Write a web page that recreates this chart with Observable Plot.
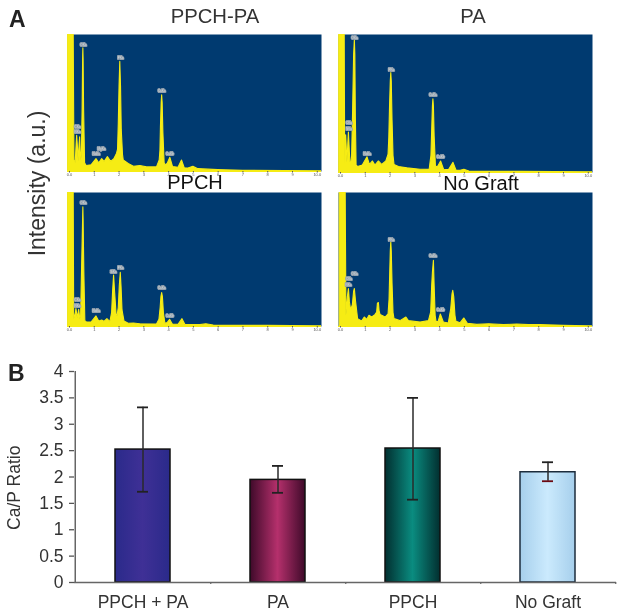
<!DOCTYPE html>
<html>
<head>
<meta charset="utf-8">
<script src="https://cdn.jsdelivr.net/npm/d3@7"></script>
<script src="https://cdn.jsdelivr.net/npm/@observablehq/plot@0.6"></script>
<style>
html,body{margin:0;padding:0;background:#fff;width:626px;height:616px;overflow:hidden}
#page{position:relative;width:626px;height:616px;font-family:"Liberation Sans",Arial,sans-serif;filter:blur(0.4px)}
#page>.plot{position:absolute}
#page>.plot svg{display:block;background:transparent}
#page>.lab{position:absolute;line-height:1;white-space:nowrap}
</style>
</head>
<body>
<div id="page"></div>
<script>
// EDS spectra: [energy keV, intensity % of panel height]
const spectrumPpchPa = [[-0.07,100],[0.17,100],[0.2,8],[0.25,6],[0.29,20],[0.31,26],[0.34,18],[0.37,7],[0.41,20],[0.43,25],[0.45,15],[0.48,8],[0.5,12],[0.53,45],[0.55,82],[0.56,90],[0.57,82],[0.59,45],[0.63,6],[0.69,4],[0.89,4.5],[1.09,9],[1.2,6],[1.32,9],[1.42,7],[1.55,10.5],[1.68,7],[1.81,9],[1.92,13],[1.96,16],[1.99,35],[2.02,62],[2.05,80],[2.08,62],[2.11,30],[2.16,12],[2.19,8],[2.39,5.5],[2.6,3.5],[2.86,4],[3.13,3],[3.53,3],[3.64,8],[3.67,15],[3.69,32],[3.72,50],[3.74,55.6],[3.76,50],[3.79,28],[3.84,6],[3.87,4.5],[3.96,5.5],[4.07,10],[4.18,3.2],[4.4,2.7],[4.54,8],[4.65,2.4],[4.8,2.2],[5,3.4],[5.2,1.7],[6,1],[7,0.5],[10,0.2],[10.17,0.2]];
const spectrumPa = [[-0.05,100],[0.17,100],[0.19,6],[0.21,20],[0.23,27],[0.26,15],[0.28,7],[0.32,22],[0.34,29],[0.37,18],[0.4,7],[0.44,7],[0.47,12],[0.51,45],[0.55,85],[0.58,96],[0.6,85],[0.62,40],[0.65,5],[0.71,4],[0.9,5],[1.09,11],[1.19,5.5],[1.31,8],[1.41,5],[1.55,8],[1.68,5.5],[1.85,8],[1.94,13],[1.97,25],[2,48],[2.03,66],[2.05,72],[2.07,66],[2.1,38],[2.14,12],[2.18,5.5],[2.36,4],[2.7,3],[3.23,2],[3.6,2.2],[3.67,12],[3.7,30],[3.73,48],[3.75,53],[3.77,48],[3.8,26],[3.85,5],[3.88,3.6],[3.95,4.4],[4.06,8],[4.18,2],[4.38,1.7],[4.56,7],[4.68,1.5],[4.85,1.2],[5,2],[5.2,0.7],[7.3,0.5],[10,0.2],[10.17,0.2]];
const spectrumPpch = [[-0.07,100],[0.17,100],[0.19,5],[0.26,10],[0.28,13],[0.31,9],[0.33,6],[0.37,10],[0.39,12.5],[0.42,8],[0.44,5],[0.47,8],[0.51,45],[0.55,80],[0.56,89],[0.57,80],[0.6,40],[0.64,4],[0.7,3],[0.89,3],[1.09,7.5],[1.2,3.7],[1.32,4.5],[1.41,3.5],[1.53,5.5],[1.65,3.2],[1.72,10],[1.76,26],[1.8,38],[1.84,26],[1.9,9],[1.94,7.5],[1.99,14],[2.03,30],[2.07,40],[2.1,30],[2.14,12],[2.22,3.7],[2.39,2],[2.6,2.2],[2.86,1.7],[3.53,1.5],[3.63,5],[3.68,14],[3.71,22],[3.74,25],[3.77,22],[3.81,10],[3.87,2],[3.96,2.5],[4.06,5],[4.17,1.5],[4.4,1.2],[4.56,5.5],[4.68,1.2],[5.28,1],[5.52,1.7],[5.82,0.7],[8,0.5],[10,0.2],[10.17,0.2]];
const spectrumNoGraft = [[-0.03,100],[0.21,100],[0.24,8],[0.3,22],[0.34,28],[0.38,18],[0.43,12],[0.5,16],[0.55,26],[0.58,28],[0.62,20],[0.71,5.5],[0.87,3.7],[0.98,6.7],[1.08,5],[1.17,8],[1.28,6.7],[1.41,8.5],[1.48,10.5],[1.51,17],[1.55,17.5],[1.58,11],[1.62,8.5],[1.82,6.7],[1.94,9],[1.98,20],[2.01,42],[2.03,56],[2.05,63],[2.07,56],[2.1,32],[2.14,10],[2.18,5.5],[2.42,4],[2.66,6.7],[2.76,4],[3.23,3],[3.57,4],[3.66,10.5],[3.7,30],[3.73,40],[3.77,49],[3.8,30],[3.84,8],[3.88,3],[3.96,3.5],[4.05,9],[4.17,3],[4.37,2.2],[4.47,13],[4.52,24],[4.55,26.6],[4.59,22],[4.64,8],[4.68,3.5],[4.85,2.5],[5,6],[5.14,2],[5.52,1.2],[6,1.7],[6.6,1],[7.13,1.5],[7.6,1],[8.08,1],[9,0.5],[10,0.2],[10.15,0.2]];

// Peak labels: [label, energy keV, label height %]
const peaksPpchPa = [["CKa",0.32,32.4],["NKa",0.32,28.5],["OKa",0.56,92],["NaKa",1.08,12.4],["MgKa",1.29,16.3],["PKa",2.06,83],["CaKa",3.72,59],["CaKb",4.05,12.9]];
const peaksPa = [["CKa",0.34,35.6],["NKa",0.34,31.7],["OKa",0.57,97.8],["NaKa",1.08,13.4],["PKa",2.05,74.6],["CaKa",3.73,56],["CaKb",4.04,11.2]];
const peaksPpch = [["CKa",0.32,19.5],["NKa",0.32,15.5],["OKa",0.56,92],["NaKa",1.08,11.5],["SiKa",1.77,41],["PKa",2.06,44],["CaKa",3.72,28.5],["CaKb",4.05,8]];
const peaksNoGraft = [["CKa",0.34,35.3],["NKa",0.32,31.3],["OKa",0.57,38.8],["PKa",2.05,64.7],["CaKa",3.73,52.5],["CaKb",4.04,12.4]];

const energyTicks = [0,1,2,3,4,5,6,7,8,9,10];

// Ca/P ratio bars
const groups = ["PPCH + PA","PA","PPCH","No Graft"];
const ratio = [2.52,1.945,2.54,2.09];
const errLow = [1.72,1.70,1.57,1.92];
const errHigh = [3.32,2.21,3.50,2.28];
const ratioTicks = [0,0.5,1,1.5,2,2.5,3,3.5,4];

const NAVY = "#003a70", YELLOW = "#f6ec14";
const page = document.getElementById("page");

function place(el,left,top){
  const d=document.createElement("div");d.className="plot";d.style.left=left+"px";d.style.top=top+"px";
  d.appendChild(el);page.appendChild(d);
}
function label(text,x,baseline,size,opts={}){
  const d=document.createElement("div");d.className="lab";d.textContent=text;
  d.style.fontSize=size+"px";
  d.style.color=opts.color||"#333";
  if(opts.bold)d.style.fontWeight="bold";
  d.style.left=x+"px";
  d.style.top=(baseline-0.8465*size)+"px";
  d.style.transform=opts.rotate?"translate(-50%,0) rotate(-90deg)":(opts.left?"none":"translateX(-50%)");
  page.appendChild(d);
}

function spectrum(points,peaks,left,top,h){
  const rows=points.map(([e,i])=>({e,i}));
  const tags=peaks.map(([t,e,i])=>({t,e,i}));
  const plot=Plot.plot({
    width:270,height:h+12,marginLeft:8,marginRight:8,marginTop:2,marginBottom:10,
    style:{background:"transparent",fontFamily:"Liberation Sans"},
    x:{domain:[-0.08,10.17]},y:{domain:[0,100],axis:null},
    marks:[
      Plot.frame({fill:NAVY,stroke:null}),
      Plot.areaY(rows,{x:"e",y:"i",fill:YELLOW,stroke:YELLOW,strokeWidth:1.1,clip:true}),
      Plot.ruleY([0],{stroke:YELLOW,strokeWidth:1}),
      Plot.axisX({ticks:energyTicks,tickSize:1.5,tickPadding:0.5,fontSize:4,label:null,color:"#555",
        tickFormat:d=>d===0?"0.0":d===10?"10.0":String(d)}),
      Plot.text(tags,{x:"e",y:"i",text:"t",fontSize:3,fill:"#d4dadd",stroke:"#93a1ae",strokeWidth:2,strokeLinejoin:"round"})
    ]
  });
  place(plot,left,top);
}
spectrum(spectrumPpchPa,peaksPpchPa,59,32,137);
spectrum(spectrumPa,peaksPa,330,32,138);
spectrum(spectrumPpch,peaksPpch,59,190,134);
spectrum(spectrumNoGraft,peaksNoGraft,330,190,134);

// bar chart
const table=groups.map((g,i)=>({g,v:ratio[i],lo:errLow[i],hi:errHigh[i]}));
const gradientStops=[["#2a2a8a","#3f3096","#2a2a8a"],["#3f0a2a","#b5306c","#3f0a2a"],["#022f30","#0a8c80","#022f30"],["#a6cfec","#cbeafd","#a6cfec"]];
const defs=()=>{
  const s=d3.create("svg:defs");
  gradientStops.forEach((c,i)=>{
    const g=s.append("linearGradient").attr("id","bar"+i).attr("x1",0).attr("x2",1).attr("y1",0).attr("y2",0);
    c.forEach((col,j)=>g.append("stop").attr("offset",j/2).attr("stop-color",col));
  });
  return s.node();
};
const barPlot=Plot.plot({
  width:626,height:256,marginLeft:74,marginRight:10,marginTop:11,marginBottom:34,
  style:{background:"transparent",fontFamily:"Liberation Sans",color:"#333"},
  x:{domain:groups,paddingInner:0.594,paddingOuter:0.297,align:0.5},
  y:{domain:[0,4]},
  marks:[
    defs,
    Plot.barY(table,{x:"g",y:"v",fill:{value:(d,i)=>`url(#bar${i})`,scale:null},stroke:(d)=>d.g==="No Graft"?"#1c2c3c":"#111",strokeWidth:1.5}),
    Plot.ruleY([0],{stroke:"#666",strokeWidth:1.5}),
    Plot.ruleX(groups,{x:d=>d,dx:67.75,y1:0,y2:-0.04,stroke:"#666",strokeWidth:1.2}),
    Plot.ruleX(groups.slice(0,1),{x:d=>d,dx:-67.75,y1:-0.02,y2:4,stroke:"#666",strokeWidth:1.5}),
    Plot.ruleX(table,{x:"g",y1:"lo",y2:"hi",stroke:"#2a2a2a",strokeWidth:1.5}),
    Plot.tickY(table,{x:"g",y:"hi",stroke:"#222",strokeWidth:1.8,insetLeft:22,insetRight:22}),
    Plot.tickY(table,{x:"g",y:"lo",stroke:d=>d.g==="No Graft"?"#6b0a12":"#222",strokeWidth:1.8,insetLeft:22,insetRight:22}),
    Plot.axisY({ticks:ratioTicks,tickSize:5,tickPadding:6,fontSize:17.5,stroke:"#555",strokeWidth:1.3,color:"#333",
      tickFormat:d=>String(d),label:null}),
    Plot.axisX({tickSize:0,tickPadding:13,fontSize:17.5,label:null,color:"#333"})
  ]
});
place(barPlot,0,360);

// titles
label("A",9,27,23,{bold:true,left:true,color:"#222"});
label("B",8,381,23,{bold:true,left:true,color:"#222"});
label("PPCH-PA",215,23,20.3);
label("PA",473,23,20.3);
label("PPCH",195,189,20,{color:"#111"});
label("No Graft",481,190,20,{color:"#111"});
label("Intensity (a.u.)",37,191,23,{rotate:true});
label("Ca/P Ratio",15,494,17.5,{rotate:true});
</script>
</body>
</html>
